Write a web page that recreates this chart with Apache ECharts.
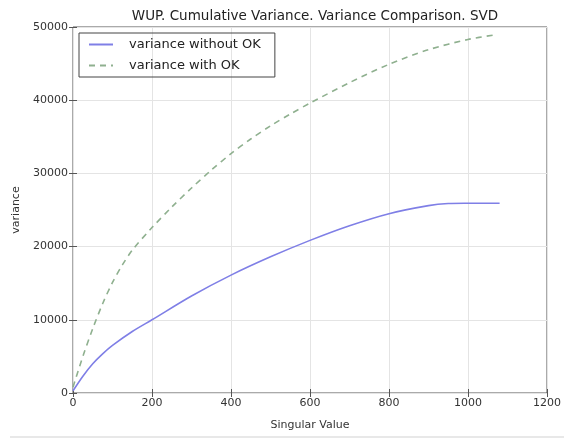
<!DOCTYPE html>
<html>
<head>
<meta charset="utf-8">
<script src="https://cdn.jsdelivr.net/npm/echarts@6/dist/echarts.min.js"></script>
<style>
  html, body { margin: 0; padding: 0; background: #fff; }
  #chart { width: 564px; height: 442px; }
</style>
</head>
<body>
<div id="chart"></div>
<script>
// Cumulative variance curves (singular value index vs. cumulative variance)
const withoutOkX = [0, 25, 50, 75, 100, 150, 200, 300, 400, 500, 600, 700, 800, 900, 950, 1000, 1080];
const withoutOkY = [300, 2300, 4000, 5350, 6500, 8400, 10000, 13250, 16100, 18600, 20850, 22850, 24500, 25600, 25880, 25920, 25930];

const withOkX = [0, 25, 50, 75, 100, 125, 150, 200, 250, 300, 350, 400, 450, 500, 550, 600, 700, 800, 900, 1000, 1065];
const withOkY = [800, 5000, 8800, 12200, 15100, 17500, 19500, 22600, 25400, 28000, 30450, 32700, 34700, 36500, 38100, 39600, 42400, 44900, 46900, 48300, 48900];

const xTicks = { min: 0, max: 1200, interval: 200 };
const yTicks = { min: 0, max: 50000, interval: 10000 };

const seriesNames = ['variance without OK', 'variance with OK'];

const zip = (xs, ys) => xs.map((x, i) => [x, ys[i]]);
const plain = v => String(v);

const FONT = 'DejaVu Sans';
const chart = echarts.init(document.getElementById('chart'), null, { renderer: 'canvas' });

const hiddenAxis = {
  axisLabel: { show: false },
  splitLine: { show: false },
  axisLine: { show: false },
  axisTick: { show: true, inside: true, length: 4, lineStyle: { color: '#555' } }
};

chart.setOption({
  backgroundColor: '#fff',
  animation: false,
  title: {
    text: 'WUP. Cumulative Variance. Variance Comparison. SVD',
    left: 310,
    textAlign: 'center',
    top: 4,
    textStyle: { fontFamily: FONT, fontSize: 13.5, fontWeight: 'normal', color: '#222' }
  },
  grid: {
    left: 73, right: 17, top: 27, bottom: 49,
    show: true, borderColor: '#555', borderWidth: 1, backgroundColor: 'transparent'
  },
  legend: {
    left: 79, top: 33,
    orient: 'vertical',
    borderColor: '#444', borderWidth: 1,
    padding: [5, 14, 5, 9],
    itemWidth: 24, itemHeight: 14, itemGap: 8,
    itemStyle: { opacity: 0 },
    textStyle: { fontFamily: FONT, fontSize: 13, color: '#222', padding: [0, 0, 0, 11] },
    data: seriesNames
  },
  xAxis: [{
    type: 'value',
    min: xTicks.min, max: xTicks.max, interval: xTicks.interval,
    name: 'Singular Value', nameLocation: 'middle', nameGap: 27,
    nameTextStyle: { fontFamily: FONT, fontSize: 11, color: '#333' },
    axisLine: { show: false },
    axisTick: { show: true, inside: true, length: 4, lineStyle: { color: '#555' } },
    axisLabel: { fontFamily: FONT, fontSize: 11, color: '#333', margin: 5, formatter: plain },
    splitLine: { show: true, lineStyle: { color: '#e4e4e4', width: 1 } }
  }, Object.assign({
    type: 'value', position: 'top',
    min: xTicks.min, max: xTicks.max, interval: xTicks.interval
  }, hiddenAxis)],
  yAxis: [{
    type: 'value',
    min: yTicks.min, max: yTicks.max, interval: yTicks.interval,
    name: 'variance', nameLocation: 'middle', nameGap: 46, nameRotate: 90,
    nameTextStyle: { fontFamily: FONT, fontSize: 11, color: '#333' },
    axisLine: { show: false },
    axisTick: { show: true, inside: true, length: 4, lineStyle: { color: '#555' } },
    axisLabel: { fontFamily: FONT, fontSize: 11, color: '#333', margin: 5, formatter: plain },
    splitLine: { show: true, lineStyle: { color: '#e4e4e4', width: 1 } }
  }, Object.assign({
    type: 'value', position: 'right',
    min: yTicks.min, max: yTicks.max, interval: yTicks.interval
  }, hiddenAxis)],
  series: [{
    name: seriesNames[0],
    type: 'line',
    smooth: 0.3,
    showSymbol: false,
    symbol: 'none',
    data: zip(withoutOkX, withoutOkY),
    itemStyle: { color: '#7f7fe6' },
    lineStyle: { color: '#7f7fe6', width: 1.6 }
  }, {
    name: seriesNames[1],
    type: 'line',
    smooth: 0.3,
    showSymbol: false,
    symbol: 'none',
    data: zip(withOkX, withOkY),
    itemStyle: { color: '#8fb08f' },
    lineStyle: { color: '#8fb08f', width: 1.6, type: [6, 5] }
  }],
  graphic: [{
    type: 'rect',
    shape: { x: 10, y: 436, width: 554, height: 2 },
    style: { fill: '#e8e8e8' },
    silent: true
  }]
});
</script>
</body>
</html>
